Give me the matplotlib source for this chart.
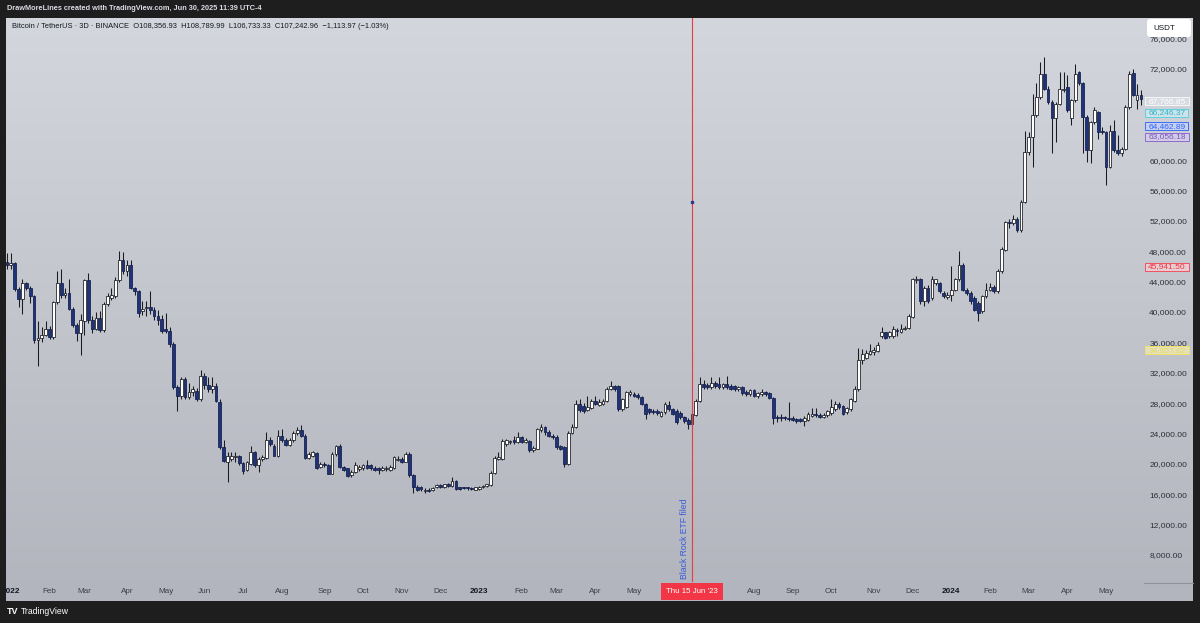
import datetime as dt
import math
import numpy as np
import matplotlib
matplotlib.use("Agg")
import matplotlib.pyplot as plt
import matplotlib.transforms as mtransforms
from matplotlib.colors import LinearSegmentedColormap
from matplotlib.patches import Rectangle, FancyBboxPatch
from matplotlib.lines import Line2D
from matplotlib.path import Path

plt.rcParams['font.family'] = ['Liberation Sans', 'DejaVu Sans']

W, H, DPI = 1200, 623, 100

# ---------------- data (BTC/USDT, 3D bars, values in thousands USDT) ----------------
first_bar_date = dt.date(2021, 12, 31)
bar_days = 3

opens = [
    46.6, 46.2, 46.4, 43.0, 41.7, 43.8, 43.1, 42.1, 36.3, 36.6,
    37.0, 37.8, 36.7, 41.3, 43.85, 42.2, 42.5, 40.35, 38.3, 37.2,
    38.8, 44.2, 39.0, 37.8, 39.2, 37.6, 41.0, 41.9, 42.1, 44.2,
    46.9, 45.4, 46.25, 43.1, 42.7, 40.1, 40.5, 40.6, 40.3, 39.5,
    39.1, 37.7, 37.5, 35.8, 30.1, 28.9, 31.2, 28.8, 29.5, 29.6,
    28.5, 31.6, 30.4, 29.9, 30.2, 28.2, 22.2, 20.2, 20.7, 20.9,
    21.0, 20.1, 19.2, 20.0, 21.5, 19.9, 20.6, 20.8, 23.2, 22.3,
    21.1, 23.7, 23.2, 22.5, 23.1, 24.0, 24.4, 23.7, 20.8, 21.1,
    21.4, 19.6, 20.0, 19.8, 18.7, 21.3, 22.3, 19.6, 19.4, 18.5,
    18.9, 19.3, 19.4, 19.9, 19.8, 19.5, 19.4, 19.2, 19.3, 19.2,
    19.4, 20.5, 20.7, 20.3, 21.3, 18.5, 16.96, 16.9, 16.45, 16.6,
    16.5, 16.9, 17.2, 16.96, 17.3, 17.1, 17.8, 16.9, 16.9, 16.9,
    16.85, 16.6, 16.74, 16.96, 17.05, 17.2, 18.8, 20.7, 20.7, 22.6,
    22.86, 23.08, 22.86, 23.5, 22.86, 23.0, 21.77, 22.0, 24.4, 24.8,
    24.2, 23.7, 23.6, 22.3, 22.2, 20.02, 24.05, 24.9, 27.9, 27.67,
    27.1, 27.3, 28.3, 27.8, 27.9, 28.3, 29.9, 30.3, 30.3, 27.2,
    27.45, 29.2, 29.2, 29.1, 28.85, 27.9, 27.2, 27.0, 27.0, 26.36,
    26.8, 27.8, 27.2, 27.0, 26.7, 26.14, 25.8, 25.3, 26.5, 28.3,
    30.5, 30.4, 30.1, 30.7, 30.5, 30.1, 30.5, 30.3, 30.3, 29.8,
    30.1, 29.5, 29.2, 29.7, 28.9, 29.2, 29.4, 29.3, 28.7, 26.15,
    26.2, 26.1, 26.1, 26.1, 25.9, 25.9, 25.7, 25.8, 26.36, 26.6,
    26.5, 26.2, 26.4, 26.7, 27.2, 27.9, 27.6, 26.8, 27.2, 28.3,
    29.8, 33.7, 34.0, 34.5, 34.7, 34.9, 36.8, 37.3, 36.8, 36.8,
    37.6, 37.4, 37.8, 37.9, 39.4, 44.2, 44.3, 41.4, 43.2, 41.8,
    43.8, 43.8, 42.5, 42.0, 42.3, 42.95, 44.3, 46.2, 42.95, 42.5,
    41.9, 41.2, 40.1, 42.1, 42.95, 43.3, 42.7, 45.4, 48.2, 51.8,
    51.7, 52.3, 50.8, 54.5, 61.1, 63.1, 65.9, 68.3, 71.4, 69.4,
    67.65, 65.5, 67.4, 69.2, 69.6, 65.5, 67.9, 71.6, 70.1, 65.7,
    61.3, 65.0, 66.3, 63.8, 63.7, 59.1, 63.9, 61.3, 60.9, 61.5,
    67.0, 71.5, 67.9, 68.6,
]
highs = [
    47.8, 47.8, 46.6, 43.3, 44.3, 44.0, 43.4, 42.3, 38.8, 38.0,
    38.8, 38.2, 41.5, 45.4, 45.6, 43.2, 44.4, 40.6, 38.6, 39.7,
    44.4, 45.2, 39.5, 40.0, 40.1, 41.3, 42.5, 43.2, 44.6, 48.0,
    47.9, 46.8, 46.9, 43.3, 42.9, 41.5, 41.5, 42.7, 40.6, 40.2,
    39.6, 39.9, 38.0, 36.1, 30.4, 31.5, 31.4, 30.6, 30.2, 30.0,
    32.3, 31.9, 31.5, 31.4, 30.6, 28.5, 23.1, 21.5, 21.6, 21.6,
    21.2, 20.2, 20.4, 22.4, 21.7, 20.9, 21.2, 24.2, 23.5, 22.6,
    24.4, 24.6, 23.4, 23.4, 24.3, 24.9, 25.1, 23.9, 21.6, 21.7,
    21.6, 20.3, 20.2, 20.0, 21.55, 22.5, 22.6, 19.7, 19.5, 19.2,
    20.2, 19.9, 20.0, 20.5, 20.0, 19.7, 19.6, 19.7, 19.7, 19.8,
    21.0, 21.1, 20.9, 21.5, 21.5, 18.6, 17.2, 17.1, 16.8, 16.8,
    17.0, 17.3, 17.4, 17.4, 17.5, 18.3, 17.9, 17.0, 17.0, 17.0,
    17.0, 17.0, 17.1, 17.2, 17.4, 19.0, 21.1, 21.55, 23.3, 23.3,
    23.2, 23.7, 24.2, 23.7, 23.4, 23.2, 22.3, 24.7, 25.3, 25.0,
    24.5, 23.9, 23.8, 22.5, 22.4, 24.3, 25.2, 28.4, 28.5, 28.0,
    28.9, 28.6, 29.0, 28.5, 28.6, 30.1, 30.95, 30.4, 30.4, 28.7,
    29.6, 29.7, 29.5, 29.3, 29.0, 28.0, 27.4, 27.2, 27.2, 27.0,
    28.1, 28.3, 27.4, 27.2, 26.9, 26.3, 26.0, 26.8, 28.5, 31.4,
    31.1, 30.7, 31.4, 30.9, 31.4, 30.7, 31.6, 30.5, 30.4, 30.3,
    30.3, 29.7, 29.9, 29.9, 29.5, 29.9, 29.6, 29.5, 28.8, 26.5,
    26.6, 26.3, 28.1, 26.3, 26.1, 26.1, 26.3, 26.8, 27.3, 27.4,
    26.7, 26.7, 27.1, 28.5, 28.3, 28.1, 27.8, 27.5, 28.7, 30.3,
    35.3, 35.1, 35.0, 35.8, 35.4, 36.0, 38.0, 37.4, 37.5, 38.1,
    37.9, 38.4, 38.2, 39.7, 44.5, 44.7, 44.5, 43.4, 43.5, 44.7,
    44.4, 44.0, 42.8, 42.6, 46.0, 44.5, 48.0, 46.4, 43.2, 42.7,
    42.1, 41.4, 42.3, 43.8, 43.8, 43.5, 45.6, 48.5, 52.0, 52.3,
    52.8, 52.5, 54.7, 63.9, 63.7, 68.7, 70.1, 72.9, 73.6, 69.7,
    67.9, 67.7, 71.6, 71.6, 71.2, 68.1, 72.7, 71.8, 70.3, 65.9,
    65.2, 67.0, 66.5, 64.4, 63.9, 64.6, 65.25, 63.3, 61.7, 67.2,
    71.8, 72.0, 70.0, 69.3,
]
lows = [
    45.6, 45.6, 42.8, 40.6, 39.7, 42.9, 41.2, 35.9, 32.9, 36.0,
    36.8, 36.4, 36.5, 41.1, 41.8, 41.9, 40.2, 38.0, 36.2, 34.4,
    37.0, 38.6, 37.2, 37.6, 37.4, 37.4, 40.8, 41.6, 41.9, 44.0,
    45.0, 44.8, 43.0, 42.2, 39.3, 39.6, 39.5, 39.8, 39.0, 38.3,
    37.2, 37.2, 35.4, 29.9, 27.0, 28.6, 28.6, 28.6, 28.9, 28.3,
    28.3, 29.9, 29.4, 29.3, 28.1, 22.0, 20.2, 17.6, 20.4, 20.2,
    19.9, 18.7, 19.0, 19.8, 19.6, 18.9, 20.4, 20.7, 22.3, 21.0,
    20.9, 22.9, 22.3, 22.3, 22.9, 23.8, 23.5, 20.7, 20.6, 20.9,
    19.3, 19.5, 19.6, 18.6, 18.6, 21.1, 19.5, 19.0, 18.3, 18.3,
    18.8, 19.1, 19.2, 19.3, 19.2, 19.1, 18.7, 19.0, 19.1, 19.1,
    19.3, 20.4, 20.1, 20.2, 18.3, 16.1, 16.4, 16.4, 16.1, 16.3,
    16.4, 16.8, 16.8, 16.8, 16.9, 17.0, 16.6, 16.5, 16.7, 16.6,
    16.6, 16.5, 16.6, 16.8, 16.9, 17.1, 18.7, 20.5, 20.5, 22.4,
    22.6, 22.6, 22.7, 22.7, 22.7, 21.6, 21.5, 21.9, 24.2, 23.8,
    23.5, 23.3, 22.0, 21.8, 19.6, 19.9, 23.9, 24.7, 26.8, 26.7,
    26.9, 27.2, 27.7, 27.6, 27.7, 28.1, 29.7, 29.6, 27.0, 27.0,
    27.3, 28.9, 28.8, 28.6, 27.7, 25.9, 26.6, 26.6, 26.5, 26.2,
    26.6, 27.0, 26.4, 25.3, 25.9, 25.4, 24.6, 24.8, 26.3, 28.1,
    29.9, 29.8, 29.9, 30.0, 29.9, 29.8, 29.9, 29.7, 29.6, 29.6,
    29.1, 29.0, 29.0, 28.8, 28.7, 29.0, 29.0, 28.5, 25.3, 25.5,
    25.7, 25.8, 25.7, 25.6, 25.4, 25.5, 25.05, 25.6, 26.2, 26.2,
    26.0, 26.0, 26.2, 26.5, 27.0, 27.2, 26.4, 26.6, 27.0, 28.1,
    29.6, 33.2, 33.8, 34.3, 34.4, 34.7, 36.6, 36.5, 36.6, 36.6,
    36.8, 37.2, 37.6, 37.7, 39.2, 43.8, 41.1, 40.8, 41.2, 41.6,
    43.6, 42.5, 41.9, 41.7, 41.4, 42.7, 44.1, 42.7, 42.3, 41.0,
    40.1, 38.8, 39.9, 41.9, 42.7, 42.5, 42.5, 45.2, 48.0, 51.0,
    51.5, 50.6, 50.6, 54.3, 60.7, 59.1, 65.7, 68.1, 69.2, 67.4,
    60.9, 62.4, 67.2, 69.0, 66.4, 64.6, 67.7, 69.9, 60.9, 59.8,
    59.6, 64.8, 62.8, 63.5, 56.7, 58.9, 61.1, 60.7, 60.6, 61.3,
    66.8, 68.4, 66.8, 67.3,
]
closes = [
    46.2, 46.4, 43.0, 41.7, 43.85, 43.1, 42.1, 36.3, 36.6, 37.0,
    37.8, 36.7, 41.3, 43.85, 42.2, 42.5, 40.35, 38.3, 37.2, 39.0,
    44.2, 39.0, 37.8, 39.2, 37.6, 41.0, 42.1, 42.3, 44.2, 46.9,
    45.4, 46.25, 43.2, 42.7, 39.9, 40.35, 40.7, 40.3, 39.5, 39.0,
    37.5, 37.5, 35.8, 30.1, 28.9, 31.2, 28.8, 29.5, 29.8, 28.5,
    31.6, 30.4, 29.9, 30.3, 28.3, 22.2, 20.4, 21.1, 21.1, 21.1,
    20.1, 19.1, 20.2, 21.5, 19.9, 20.7, 20.9, 23.2, 22.6, 21.1,
    23.7, 23.1, 22.5, 23.1, 24.0, 24.4, 23.7, 20.8, 21.3, 21.5,
    19.5, 20.0, 19.8, 18.7, 21.3, 22.3, 19.6, 19.2, 18.4, 18.9,
    19.8, 19.6, 19.8, 19.5, 19.4, 19.2, 19.2, 19.5, 19.5, 19.6,
    20.9, 20.7, 20.3, 21.3, 18.5, 16.96, 16.6, 16.7, 16.6, 16.5,
    16.85, 17.2, 16.96, 17.3, 17.05, 17.8, 16.74, 16.7, 16.8, 16.8,
    16.7, 16.9, 16.96, 17.1, 17.3, 18.8, 20.8, 20.9, 23.0, 23.1,
    23.0, 22.86, 23.5, 22.86, 23.2, 21.77, 22.1, 24.6, 24.83, 24.2,
    23.7, 23.5, 22.2, 22.0, 20.02, 24.05, 24.9, 27.9, 27.1, 27.0,
    27.45, 28.3, 27.9, 28.1, 28.3, 29.9, 30.3, 29.9, 27.2, 28.5,
    29.4, 29.4, 29.0, 28.8, 27.9, 26.58, 26.8, 26.8, 26.7, 26.8,
    27.9, 27.2, 26.58, 25.5, 26.14, 25.6, 25.2, 26.6, 28.3, 30.5,
    30.1, 30.1, 30.6, 30.3, 30.1, 30.5, 30.1, 29.9, 29.8, 30.1,
    29.3, 29.2, 29.7, 29.0, 29.3, 29.4, 29.2, 28.7, 26.1, 26.05,
    26.0, 26.0, 25.9, 25.8, 25.7, 25.7, 26.1, 26.6, 26.6, 26.45,
    26.2, 26.5, 26.9, 27.45, 27.9, 27.45, 26.6, 27.3, 28.5, 29.9,
    33.7, 34.5, 34.6, 34.9, 35.0, 35.6, 37.3, 36.6, 37.3, 37.7,
    37.5, 37.8, 37.9, 39.5, 44.3, 44.3, 41.4, 43.2, 41.4, 44.3,
    44.3, 42.7, 42.1, 42.3, 42.95, 44.3, 46.2, 42.95, 42.5, 41.4,
    40.3, 39.9, 42.1, 42.95, 43.3, 42.7, 45.4, 48.3, 51.8, 51.7,
    52.3, 50.8, 54.5, 61.1, 63.1, 65.9, 68.3, 71.4, 69.4, 67.65,
    65.5, 67.4, 69.4, 69.4, 66.6, 67.9, 71.4, 70.1, 65.7, 61.3,
    65.0, 66.6, 63.7, 63.7, 59.1, 63.9, 61.3, 60.9, 61.5, 67.0,
    71.4, 68.6, 68.6, 68.0,
]

price_ticks = [8000, 12000, 16000, 20000, 24000, 28000, 32000, 36000, 40000,
               44000, 48000, 52000, 56000, 60000, 72000, 76000]
levels = [67766.85, 66246.37, 64462.89, 63056.18, 45941.50, 34957.62]
level_text_colors = ['#ffffff', '#2fb7c7', '#2962ff', '#7e57c2', '#f23645', '#eadb5a']
level_fill_colors = ['#dadce3', '#cde2e9', '#c8d0ef', '#d2cce5', '#e7cdd2', '#e4e1bd']
level_edge_colors = ['#f5f6f8', '#5fd0dd', '#3d6df5', '#8b6bcf', '#f0525f', '#efe067']

event_date = dt.date(2023, 6, 15)
event_tag = "Thu 15 Jun '23"
event_note = "Black Rock ETF filed"
event_anchor_price = 54500

header_text = "DrawMoreLines created with TradingView.com, Jun 30, 2025 11:39 UTC-4"
legend_text = ("Bitcoin / TetherUS \u00b7 3D \u00b7 BINANCE  O108,356.93  H108,789.99  "
               "L106,733.33  C107,242.96  \u22121,113.97 (\u22121.03%)")
currency = "USDT"

# ---------------- figure ----------------
FRAME = '#1e1e1e'
fig = plt.figure(figsize=(W / DPI, H / DPI), dpi=DPI)
fig.patch.set_facecolor(FRAME)


def fx(px):
    return px / W


def fy(py):
    return 1 - py / H


PIX = mtransforms.IdentityTransform()

# gradient background of the chart area
bg = fig.add_axes([fx(6), fy(601), fx(1193 - 6), (601 - 18) / H], zorder=0)
bg.imshow(np.linspace(0, 1, 256).reshape(-1, 1), aspect='auto',
          cmap=LinearSegmentedColormap.from_list('tvbg', ['#d3d6dc', '#b2b5bd']),
          interpolation='bicubic')
bg.set_axis_off()

# price pane
ax = fig.add_axes([fx(6), fy(582), fx(1144 - 6), (582 - 18) / H], zorder=1)
ax.patch.set_visible(False)
for s in ax.spines.values():
    s.set_visible(False)

n = min(len(opens), len(highs), len(lows), len(closes))
O = np.array(opens[:n]) * 1000
Hh = np.array(highs[:n]) * 1000
L = np.array(lows[:n]) * 1000
C = np.array(closes[:n]) * 1000
k = np.arange(n)
up = C >= O

body_bottom = np.minimum(O, C)
body_h = np.abs(C - O)
min_h = 140.0
thin = body_h < min_h
body_bottom = np.where(thin, (O + C) / 2 - min_h / 2, body_bottom)
body_h = np.maximum(body_h, min_h)

ax.vlines(k, L, Hh, colors='#1a1c24', linewidth=0.75, zorder=2)
ax.bar(k[up], body_h[up], bottom=body_bottom[up], width=0.72,
       color='#ffffff', edgecolor='#14161c', linewidth=0.55, zorder=3)
ax.bar(k[~up], body_h[~up], bottom=body_bottom[~up], width=0.72,
       color='#1f3378', edgecolor='#121d4c', linewidth=0.55, zorder=3)

ax.set_xlim(-0.26, 293.8)
ax.set_ylim(4440, 78720)

# price axis on the right
ax.yaxis.tick_right()
ax.set_yticks(price_ticks)
ax.set_yticklabels([f'{v:,.2f}' for v in price_ticks])
ax.tick_params(axis='y', length=0, pad=3.8, labelsize=6.0, labelcolor='#2c2f38')

# time axis: first bar of each month
months = []
yy, mm = 2022, 1
while (yy, mm) <= (2024, 5):
    months.append(dt.date(yy, mm, 1))
    mm += 1
    if mm == 13:
        yy, mm = yy + 1, 1
hidden = {(2023, 6), (2023, 7)}
tick_pos, tick_lab, tick_bold = [], [], []
for d in months:
    if (d.year, d.month) in hidden:
        continue
    tick_pos.append(math.ceil((d - first_bar_date).days / bar_days))
    tick_lab.append(str(d.year) if d.month == 1 else d.strftime('%b'))
    tick_bold.append(d.month == 1)
ax.set_xticks(tick_pos)
ax.set_xticklabels(tick_lab)
ax.tick_params(axis='x', length=0, pad=4.2, labelsize=5.9, labelcolor='#3b3f4a')
for t, b in zip(ax.get_xticklabels(), tick_bold):
    if b:
        t.set_fontweight('bold')
        t.set_color('#131722')

# event: vertical line + labels
k_event = (event_date - first_bar_date).days / bar_days
ax.axvline(k_event, color='#f23645', lw=0.8, zorder=4)
ax.plot([k_event], [event_anchor_price], marker='s', ms=1.8, color='#2c3a8a', zorder=5)
ax.annotate(event_note, xy=(k_event, 0), xycoords=('data', 'axes fraction'),
            xytext=(-2.2, 2.2), textcoords='offset points', rotation=90,
            ha='right', va='bottom', color='#3a5ad8', fontsize=6.2, zorder=5)
ax.annotate(event_tag, xy=(k_event, 0), xycoords=('data', 'axes fraction'),
            xytext=(0, -6.9), textcoords='offset points', ha='center', va='center',
            color='white', fontsize=5.7, annotation_clip=False, zorder=6,
            bbox=dict(boxstyle='square,pad=0.58', fc='#f23645', ec='none'))


# coloured price-level tags on the scale
def tv_box(x0, y0, width, height, mutation_size):
    px_ = 0.38 * mutation_size
    py_ = 0.06 * mutation_size
    x0 -= px_
    y0 -= py_
    width += 2 * px_
    height += 2 * py_
    return Path([(x0, y0), (x0 + width, y0), (x0 + width, y0 + height),
                 (x0, y0 + height), (x0, y0)], closed=True)


scale_tr = (mtransforms.blended_transform_factory(ax.transAxes, ax.transData)
            + mtransforms.ScaledTranslation(4.2 / DPI, 0, fig.dpi_scale_trans))
for v, tc, fc, ec in zip(levels, level_text_colors, level_fill_colors, level_edge_colors):
    ax.text(1.0, v, f'{v:,.2f}', transform=scale_tr, ha='left', va='center',
            fontsize=6.0, color=tc, clip_on=False, zorder=7,
            bbox=dict(boxstyle=tv_box, fc=fc, ec=ec, lw=0.7))

# corner separator under the price scale
fig.add_artist(Line2D([1144, 1193], [H - 582.5, H - 582.5], transform=PIX,
                      color='#8e919a', lw=0.8, zorder=8))

# currency box
fig.add_artist(FancyBboxPatch((1147, H - 37), 44, 18, transform=PIX,
                              boxstyle='round,pad=0,rounding_size=3',
                              fc='white', ec='none', zorder=9))
fig.text(fx(1153), fy(28), currency, va='center', ha='left', fontsize=5.8,
         color='#131722', zorder=10)

# dark frame strip on the left (clips the first year label)
fig.add_artist(Rectangle((0, 0), 6, H, transform=PIX, fc=FRAME, ec='none', zorder=11))

# header texts
fig.text(fx(7), fy(9), header_text, va='center', ha='left', fontsize=5.3,
         fontweight='bold', color='#d9dce3', zorder=12)
fig.text(fx(12), fy(27), legend_text, va='center', ha='left', fontsize=5.45,
         color='#131722', zorder=12)

# footer logo
fig.text(fx(7), fy(612), 'TV', va='center', ha='left', fontsize=6.5,
         fontweight='heavy', color='white', zorder=12)
fig.text(fx(21), fy(612), 'TradingView', va='center', ha='left', fontsize=6.2,
         color='white', zorder=12)

fig.savefig('out.png', dpi=DPI, facecolor=fig.get_facecolor())
